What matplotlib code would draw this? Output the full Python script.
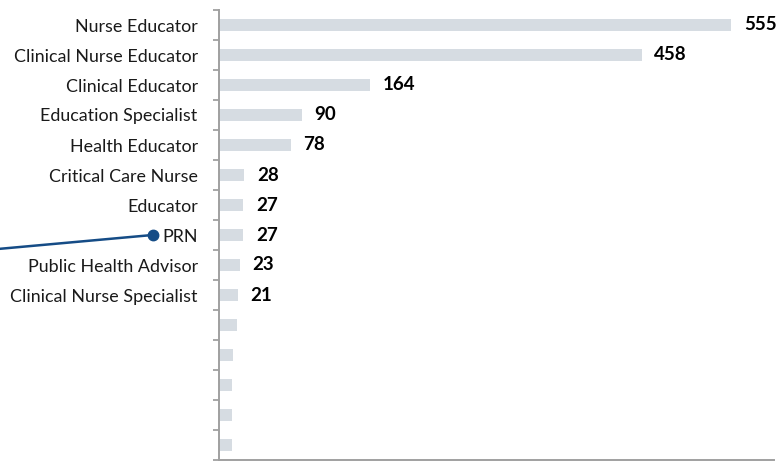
import matplotlib
matplotlib.use("Agg")
import matplotlib.pyplot as plt
from matplotlib.ticker import FixedLocator
import matplotlib.transforms as mtransforms

categories = ["Nurse Educator", "Clinical Nurse Educator", "Clinical Educator",
              "Education Specialist", "Health Educator", "Critical Care Nurse",
              "Educator", "PRN", "Public Health Advisor", "Clinical Nurse Specialist",
              "", "", "", "", ""]
values = [555, 458, 164, 90, 78, 28, 27, 27, 23, 21, 20, 16, 15, 15, 15]
show_labels = [True] * 10 + [False] * 5
highlight = "PRN"

bar_color = "#d6dce2"
spine_color = "#a0a0a0"
accent = "#154c86"

plt.rcParams['font.family'] = ['Lato', 'DejaVu Sans']

fig = plt.figure(figsize=(7.76, 4.61), dpi=100)
W, H = 776, 461
ax = fig.add_axes([218.5 / W, 1 / H, (774 - 218.5) / W, 450 / H])

y = list(range(len(categories)))
ax.barh(y, values, height=0.37, color=bar_color, zorder=2)

ax.set_ylim(len(categories) - 0.5, -0.5)
ax.set_xlim(0, 601)

ax.set_yticks(y)
ax.set_yticklabels(categories, fontsize=12.9, color="#1a1a1a")
ax.yaxis.set_minor_locator(FixedLocator([i - 0.5 for i in range(len(categories) + 1)]))
ax.tick_params(axis='y', which='major', length=0, pad=15)
ax.tick_params(axis='y', which='minor', length=4, width=1.3, color=spine_color, direction='out')
ax.set_xticks([])

for s in ['top', 'right']:
    ax.spines[s].set_visible(False)
for s in ['left', 'bottom']:
    ax.spines[s].set_color(spine_color)
    ax.spines[s].set_linewidth(1.4)

for yi, v, show in zip(y, values, show_labels):
    if show:
        ax.annotate(str(v), xy=(v, yi), xytext=(9, 0), textcoords='offset points',
                    ha='left', va='center', fontsize=13.5, fontweight='bold', color='black')

# annotation line pointing to highlighted label
hi = categories.index(highlight)
trans = mtransforms.blended_transform_factory(fig.transFigure, ax.transData)
x_dot = 152.5 / W
ax.annotate('', xy=(x_dot, hi), xycoords=trans,
            xytext=(0, hi + 0.46), textcoords=trans,
            arrowprops=dict(arrowstyle='-', color=accent, lw=1.8, shrinkA=0, shrinkB=0),
            annotation_clip=False)
ax.plot([x_dot], [hi], marker='o', markersize=7.5, color=accent, transform=trans, clip_on=False, zorder=5)

fig.savefig("out.png", dpi=100)
